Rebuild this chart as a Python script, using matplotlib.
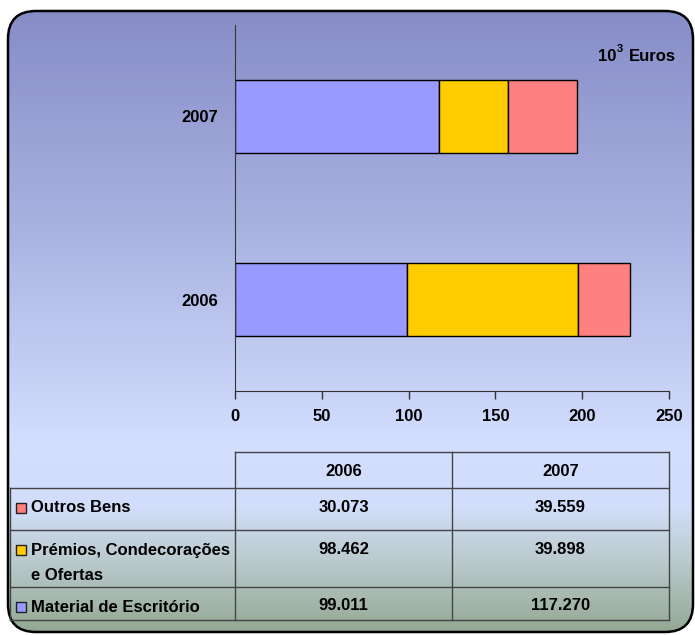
import numpy as np
import matplotlib
matplotlib.use("Agg")
import matplotlib.pyplot as plt
from matplotlib.patches import FancyBboxPatch, Rectangle
from matplotlib.colors import LinearSegmentedColormap

# ---- data ----
years = ["2006", "2007"]
series_names = ["Material de Escritório", "Prémios, Condecorações\ne Ofertas", "Outros Bens"]
material = [99.011, 117.270]
premios = [98.462, 39.898]
outros = [30.073, 39.559]
series_values = [material, premios, outros]
series_colors = ["#9999ff", "#ffcc00", "#ff8080"]
x_ticks = [0, 50, 100, 150, 200, 250]
unit_base, unit_exp, unit_name = "10", "3", "Euros"

W, H = 695, 635
fig = plt.figure(figsize=(W / 100, H / 100), dpi=100)
plt.rcParams['font.family'] = ['Liberation Sans', 'DejaVu Sans']
FS = 12

# ---- background gradient with rounded border ----
bg = fig.add_axes([0, 0, 1, 1])
bg.set_xlim(0, W)
bg.set_ylim(H, 0)
bg.axis("off")
cmap = LinearSegmentedColormap.from_list(
    "bg",
    [(0.0, (0.53, 0.55, 0.78)),
     (0.35, (0.66, 0.70, 0.88)),
     (0.70, (0.83, 0.87, 1.0)),
     (0.80, (0.82, 0.87, 0.98)),
     (0.88, (0.74, 0.80, 0.82)),
     (1.0, (0.58, 0.66, 0.58))])
grad = np.linspace(0, 1, 512).reshape(-1, 1)
im = bg.imshow(grad, cmap=cmap, aspect="auto", extent=[0, W, H - 3, 10], zorder=0)
box = FancyBboxPatch((8, 11), W - 10, H - 14, boxstyle="round,pad=0,rounding_size=28",
                     fc="none", ec="black", lw=1.8, zorder=2)
bg.add_patch(box)
im.set_clip_path(box)

# ---- bar chart ----
ax = fig.add_axes([235 / W, 1 - 391 / H, (669 - 235) / W, (391 - 25) / H])
ax.patch.set_alpha(0)
ypos = np.arange(len(years))
left = np.zeros(len(years))
for vals, col in zip(series_values, series_colors):
    ax.barh(ypos, vals, left=left, height=0.4, color=col, edgecolor="black", lw=1.0)
    left += np.array(vals)
ax.set_xlim(0, 250)
ax.set_ylim(-0.5, 1.5)
ax.set_xticks(x_ticks)
ax.set_xticklabels([str(t) for t in x_ticks], fontsize=FS, fontweight="bold")
ax.set_yticks(ypos)
ax.set_yticklabels(years, fontsize=FS, fontweight="bold")
ax.tick_params(axis="y", length=0, pad=12)
ax.tick_params(axis="x", length=6, width=1, color="#333333", pad=7)
for s in ["top", "right"]:
    ax.spines[s].set_visible(False)
ax.spines["left"].set_color("#333333")
ax.spines["bottom"].set_color("#333333")

# unit label "10^3 Euros"
bg.text(616, 61, unit_base, ha="right", va="baseline", fontsize=FS, fontweight="bold", zorder=4)
bg.text(616.5, 52, unit_exp, ha="left", va="baseline", fontsize=8, fontweight="bold", zorder=4)
bg.text(629, 61, unit_name, ha="left", va="baseline", fontsize=FS, fontweight="bold", zorder=4)

# ---- data table (drawn in pixel coordinates on bg axes) ----
col_x = [235, 452, 669]
row_y = [452, 488, 530, 587, 620]
lc = "#444444"
bg.plot([col_x[0], col_x[2]], [row_y[0], row_y[0]], color=lc, lw=1, zorder=3)
for yy in row_y[1:]:
    bg.plot([10, col_x[2]], [yy, yy], color=lc, lw=1, zorder=3)
for xx in col_x:
    bg.plot([xx, xx], [row_y[0], row_y[-1]], color=lc, lw=1, zorder=3)
bg.plot([10, 10], [row_y[1], row_y[-1]], color=lc, lw=1, zorder=3)

for j, yr in enumerate(years):
    bg.text((col_x[j] + col_x[j + 1]) / 2, (row_y[0] + row_y[1]) / 2 + 1, yr,
            ha="center", va="center", fontsize=FS, fontweight="bold", zorder=4)

table_order = [2, 1, 0]  # Outros, Prémios, Material
for r, si in enumerate(table_order):
    y0 = row_y[r + 1]
    label_y = y0 + 20
    bg.add_patch(Rectangle((16, label_y - 5), 10, 10, fc=series_colors[si], ec="#222222",
                           lw=1, zorder=4))
    lines = series_names[si].split("\n")
    for k, ln in enumerate(lines):
        bg.text(31, label_y + k * 26, ln, ha="left", va="center",
                fontsize=FS, fontweight="bold", zorder=4)
    for j in range(len(years)):
        v = series_values[si][j]
        bg.text((col_x[j] + col_x[j + 1]) / 2, label_y - 1, f"{v:.3f}",
                ha="center", va="center", fontsize=FS, fontweight="bold", zorder=4)

fig.savefig("out.png", dpi=100)
